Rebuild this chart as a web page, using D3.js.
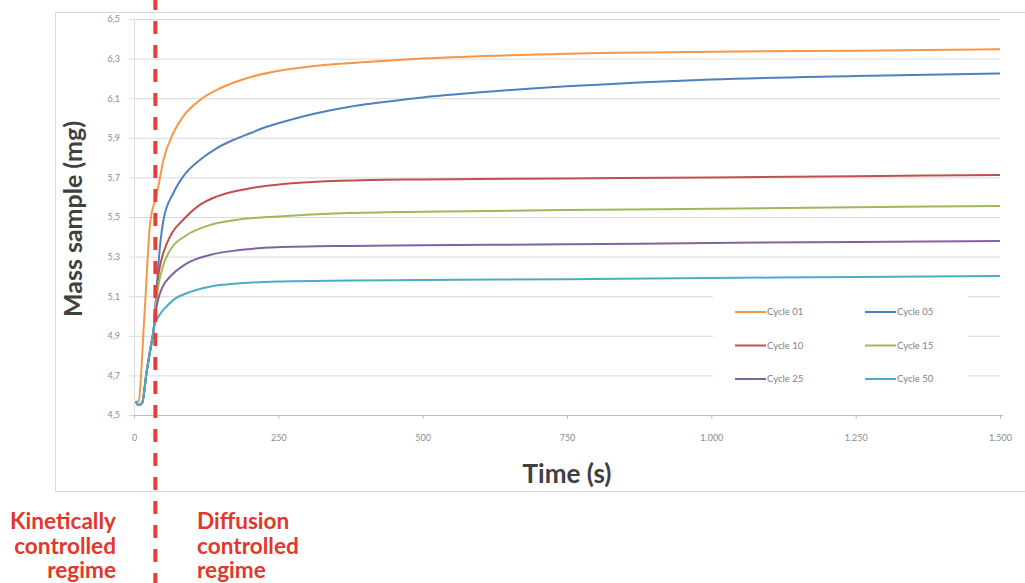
<!DOCTYPE html>
<html>
<head>
<meta charset="utf-8">
<script src="https://cdn.jsdelivr.net/npm/d3@7"></script>
<style>
  html, body { margin: 0; padding: 0; background: #fff; }
  svg { display: block; }
</style>
</head>
<body>
<svg id="chart" width="1025" height="583"></svg>
<script>
// ---- Data ----
const seriesNames = ["Cycle 01", "Cycle 05", "Cycle 10", "Cycle 15", "Cycle 25", "Cycle 50"];
const seriesColors = ["#F79646", "#4F81BD", "#C0504D", "#9BBB59", "#8064A2", "#4BACC6"];

const cycle01Time = [3, 8, 18, 28, 38, 42, 51, 68, 85, 114, 143, 172, 201, 259, 316, 409, 500, 750, 1000, 1250, 1500];
const cycle01Mass = [4.56, 4.57, 5.0, 5.47, 5.60, 5.653, 5.788, 5.923, 6.007, 6.09, 6.141, 6.178, 6.206, 6.242, 6.264, 6.284, 6.30, 6.325, 6.335, 6.34, 6.347];

const cycle05Time = [3, 8, 14, 22, 30, 34, 38, 42, 46, 51, 68, 85, 114, 143, 172, 201, 230, 259, 316, 374, 409, 500, 600, 750, 1000, 1250, 1500];
const cycle05Mass = [4.57, 4.55, 4.56, 4.72, 4.86, 4.93, 5.08, 5.25, 5.38, 5.485, 5.62, 5.704, 5.788, 5.847, 5.889, 5.923, 5.956, 5.981, 6.024, 6.057, 6.072, 6.104, 6.13, 6.16, 6.195, 6.212, 6.225];

const cycle10Time = [3, 8, 14, 22, 30, 34, 38, 42, 48, 56, 66, 85, 114, 143, 201, 259, 316, 409, 500, 750, 1000, 1250, 1500];
const cycle10Mass = [4.57, 4.55, 4.56, 4.72, 4.86, 4.93, 5.08, 5.2, 5.29, 5.36, 5.42, 5.485, 5.561, 5.603, 5.645, 5.667, 5.678, 5.687, 5.69, 5.695, 5.70, 5.706, 5.712];

const cycle15Time = [3, 8, 14, 22, 30, 34, 37, 41, 50, 62, 91, 131, 183, 250, 370, 500, 750, 1000, 1250, 1500];
const cycle15Mass = [4.57, 4.55, 4.56, 4.72, 4.86, 4.93, 5.03, 5.13, 5.25, 5.33, 5.408, 5.459, 5.488, 5.503, 5.52, 5.527, 5.535, 5.542, 5.549, 5.556];

const cycle25Time = [3, 8, 14, 22, 30, 34, 36, 40, 50, 62, 91, 131, 183, 247, 373, 500, 750, 1000, 1250, 1500];
const cycle25Mass = [4.57, 4.55, 4.56, 4.72, 4.86, 4.93, 4.98, 5.06, 5.15, 5.197, 5.265, 5.308, 5.333, 5.347, 5.354, 5.357, 5.362, 5.369, 5.374, 5.379];

const cycle50Time = [3, 8, 14, 22, 30, 34, 36, 42, 49, 56, 70, 91, 131, 183, 247, 373, 500, 750, 1000, 1250, 1500];
const cycle50Mass = [4.57, 4.55, 4.56, 4.72, 4.86, 4.93, 4.96, 4.995, 5.025, 5.047, 5.085, 5.115, 5.148, 5.165, 5.174, 5.179, 5.182, 5.186, 5.192, 5.197, 5.202];

const xTicks = [0, 250, 500, 750, 1000, 1250, 1500];
const yTicks = [4.5, 4.7, 4.9, 5.1, 5.3, 5.5, 5.7, 5.9, 6.1, 6.3, 6.5];
const xTitle = "Time (s)";
const yTitle = "Mass sample (mg)";
const leftNote = ["Kinetically", "controlled", "regime"];
const rightNote = ["Diffusion", "controlled", "regime"];
const regimeBoundary = 37;   // time (s) of the dashed separator

const allTimes = [cycle01Time, cycle05Time, cycle10Time, cycle15Time, cycle25Time, cycle50Time];
const allMasses = [cycle01Mass, cycle05Mass, cycle10Mass, cycle15Mass, cycle25Mass, cycle50Mass];

// ---- Drawing ----
const svg = d3.select("#chart");
const FONT = "Lato, 'Open Sans', 'DejaVu Sans', sans-serif";
const locale = d3.formatLocale({ decimal: ",", thousands: ".", grouping: [3], currency: ["", "€"] });
const fmtY = locale.format(".1f");
const fmtX = locale.format(",d");

const plot = { left: 134, right: 1000, top: 19, bottom: 415 };
const x = d3.scaleLinear().domain([0, 1500]).range([plot.left, plot.right]);
const y = d3.scaleLinear().domain([4.5, 6.5]).range([plot.bottom, plot.top]);

svg.append("rect").attr("width", 1025).attr("height", 583).attr("fill", "#fff");

// chart frame
svg.append("rect")
  .attr("x", 55.5).attr("y", 12.5).attr("width", 1000).attr("height", 479)
  .attr("fill", "#fff").attr("stroke", "#d9d9d9").attr("stroke-width", 1);

// gridlines (y axis)
const yAxis = d3.axisLeft(y).tickValues(yTicks).tickFormat(fmtY)
  .tickSize(-(plot.right - plot.left) - 5).tickPadding(9);
const gy = svg.append("g").attr("transform", `translate(${plot.left - 5},0)`).call(yAxis);
gy.select(".domain").remove();
gy.selectAll(".tick line").attr("stroke", "#d9d9d9").attr("x2", plot.right - plot.left + 5).attr("x1", 0);
gy.selectAll(".tick text").attr("fill", "#8c8c8c").attr("font-size", 9).attr("font-family", FONT);

// vertical axis line
svg.append("line")
  .attr("x1", plot.left + 0.5).attr("x2", plot.left + 0.5)
  .attr("y1", plot.top).attr("y2", plot.bottom)
  .attr("stroke", "#d9d9d9");

// x axis
const xAxis = d3.axisBottom(x).tickValues(xTicks).tickFormat(fmtX).tickSize(4).tickPadding(16);
const gx = svg.append("g").attr("transform", `translate(0,${plot.bottom})`).call(xAxis);
gx.select(".domain").attr("stroke", "#bfbfbf").attr("d", `M${plot.left},0.5H${plot.right + 3}`);
gx.selectAll(".tick line").attr("stroke", "#bfbfbf");
gx.selectAll(".tick text").attr("fill", "#8c8c8c").attr("font-size", 9).attr("font-family", FONT);

// series lines
const line = d3.line().x(d => x(d[0])).y(d => y(d[1])).curve(d3.curveMonotoneX);
seriesNames.forEach((name, i) => {
  const pts = allTimes[i].map((t, j) => [t, allMasses[i][j]]);
  svg.append("path").datum(pts)
    .attr("d", line)
    .attr("fill", "none")
    .attr("stroke", seriesColors[i])
    .attr("stroke-width", 2)
    .attr("stroke-linejoin", "round");
});

// legend
const legend = svg.append("g");
legend.append("rect").attr("x", 713).attr("y", 286).attr("width", 255).attr("height", 112).attr("fill", "#fff");
const legCols = [735, 865], legRows = [312, 345.5, 379];
seriesNames.forEach((name, i) => {
  const cx = legCols[i % 2], cy = legRows[Math.floor(i / 2)];
  legend.append("line").attr("x1", cx).attr("x2", cx + 31).attr("y1", cy).attr("y2", cy)
    .attr("stroke", seriesColors[i]).attr("stroke-width", 2);
  legend.append("text").attr("x", cx + 32).attr("y", cy).attr("dy", "0.35em")
    .attr("font-family", FONT).attr("font-size", 9.5).attr("fill", "#7f7f7f").text(name);
});

// axis titles
function fitText(sel, targetWidth) {
  const w = sel.node().getComputedTextLength();
  const fs = parseFloat(sel.attr("font-size"));
  sel.attr("font-size", (fs * targetWidth / w).toFixed(2));
  return fs * targetWidth / w;
}
const xt = svg.append("text").attr("x", 567).attr("y", 483).attr("text-anchor", "middle")
  .attr("font-family", FONT).attr("font-weight", "bold").attr("font-size", 20)
  .attr("fill", "#404040").text(xTitle);
fitText(xt, 89);
const yt = svg.append("text").attr("transform", "translate(82,219) rotate(-90)").attr("text-anchor", "middle")
  .attr("font-family", FONT).attr("font-weight", "bold").attr("font-size", 20)
  .attr("fill", "#404040").text(yTitle);
fitText(yt, 196);

// regime separator
svg.append("line")
  .attr("x1", x(regimeBoundary)).attr("x2", x(regimeBoundary))
  .attr("y1", 0).attr("y2", 583)
  .attr("stroke", "#e2413a").attr("stroke-width", 4)
  .attr("stroke-dasharray", "13,11").attr("stroke-dashoffset", 3);

// regime annotations
const RED = "#e0392b";
const k0 = svg.append("text").attr("x", 116).attr("y", 529).attr("text-anchor", "end")
  .attr("font-family", FONT).attr("font-weight", "bold").attr("font-size", 18).attr("fill", RED).text(leftNote[0]);
const fsNote = fitText(k0, 106);
leftNote.slice(1).forEach((t, i) => {
  svg.append("text").attr("x", 116).attr("y", 553.5 + i * 24.5).attr("text-anchor", "end")
    .attr("font-family", FONT).attr("font-weight", "bold").attr("font-size", fsNote.toFixed(2)).attr("fill", RED).text(t);
});
rightNote.forEach((t, i) => {
  svg.append("text").attr("x", 197).attr("y", 529 + i * 24.5).attr("text-anchor", "start")
    .attr("font-family", FONT).attr("font-weight", "bold").attr("font-size", fsNote.toFixed(2)).attr("fill", RED).text(t);
});
</script>
</body>
</html>
